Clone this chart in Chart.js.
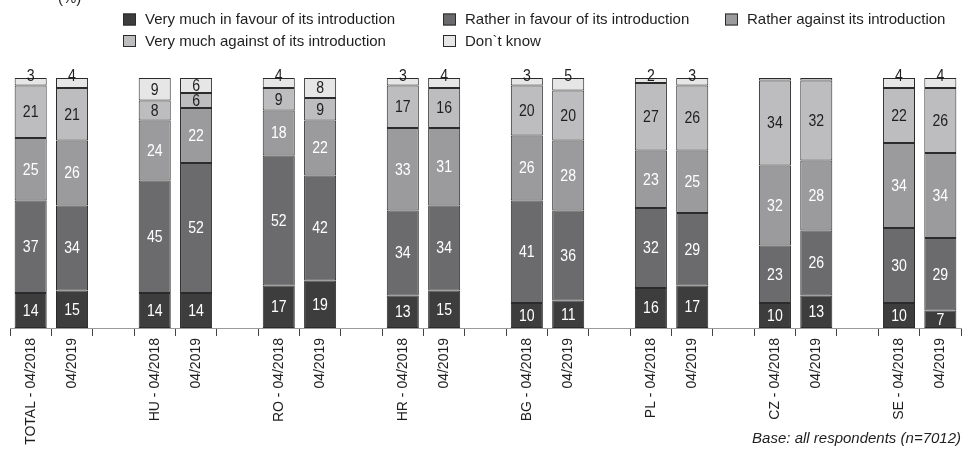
<!DOCTYPE html>
<html>
<head>
<meta charset="utf-8">
<script src="https://cdn.jsdelivr.net/npm/chart.js@4/dist/chart.umd.min.js"></script>
<style>
  html, body { margin: 0; padding: 0; background: #ffffff; }
  #wrap { position: relative; width: 963px; height: 449px; }
</style>
</head>
<body>
<div id="wrap"><canvas id="chart" width="963" height="449"></canvas></div>
<script>
// Attitudes towards the introduction, by country and survey wave (%)
const categories = [
  'TOTAL - 04/2018', '04/2019', '',
  'HU - 04/2018', '04/2019', '',
  'RO - 04/2018', '04/2019', '',
  'HR - 04/2018', '04/2019', '',
  'BG - 04/2018', '04/2019', '',
  'PL - 04/2018', '04/2019', '',
  'CZ - 04/2018', '04/2019', '',
  'SE - 04/2018', '04/2019'
];

const seriesNames = [
  'Very much in favour of its introduction',
  'Rather in favour of its introduction',
  'Rather against its introduction',
  'Very much against of its introduction',
  'Don`t know'
];

// empty slots (null) separate the country groups
const veryMuchInFavour = [14, 15, null, 14, 14, null, 17, 19, null, 13, 15, null, 10, 11, null, 16, 17, null, 10, 13, null, 10, 7];
const ratherInFavour   = [37, 34, null, 45, 52, null, 52, 42, null, 34, 34, null, 41, 36, null, 32, 29, null, 23, 26, null, 30, 29];
const ratherAgainst    = [25, 26, null, 24, 22, null, 18, 22, null, 33, 31, null, 26, 28, null, 23, 25, null, 32, 28, null, 34, 34];
const veryMuchAgainst  = [21, 21, null,  8,  6, null,  9,  9, null, 17, 16, null, 20, 20, null, 27, 26, null, 34, 32, null, 22, 26];
const dontKnow         = [ 3,  4, null,  9,  6, null,  4,  8, null,  3,  4, null,  3,  5, null,  2,  3, null,  1,  1, null,  4,  4];

const fillColors  = ['#3d3d3e', '#6b6b6d', '#9b9b9d', '#bdbdc0', '#e6e6e7'];
const labelColors = ['#ffffff', '#ffffff', '#ffffff', '#1e1e1e', '#1e1e1e'];

const FONT = "'Liberation Sans', Arial, Helvetica, sans-serif";

const seriesValues = [veryMuchInFavour, ratherInFavour, ratherAgainst, veryMuchAgainst, dontKnow];

const datasets = seriesValues.map((vals, i) => ({
  label: seriesNames[i],
  data: vals,
  backgroundColor: fillColors[i],
  borderColor: '#2b2b2b',
  borderWidth: 1,
  borderSkipped: false,
  barPercentage: 0.775,
  categoryPercentage: 1.0
}));

// Value labels (slightly condensed): centred in each segment;
// small top shares sit on the bar's upper edge
const valueLabels = {
  id: 'valueLabels',
  afterDatasetsDraw(chart) {
    const ctx = chart.ctx;
    const last = chart.data.datasets.length - 1;
    chart.data.datasets.forEach((ds, di) => {
      const meta = chart.getDatasetMeta(di);
      meta.data.forEach((el, idx) => {
        const v = ds.data[idx];
        if (v === null || v === undefined || v <= 1) return;
        const y = (di === last && v <= 5) ? el.y - 1 : (el.y + el.base) / 2 + 1;
        ctx.save();
        ctx.translate(el.x, y);
        ctx.scale(0.88, 1);
        ctx.font = '16px ' + FONT;
        ctx.textAlign = 'center';
        ctx.textBaseline = 'middle';
        ctx.fillStyle = labelColors[di];
        ctx.fillText(String(v), 0, 0);
        ctx.restore();
      });
    });
  }
};

// Three-column legend, unit note and base note
const decorations = {
  id: 'decorations',
  afterDraw(chart) {
    const ctx = chart.ctx;
    ctx.save();
    ctx.font = '15px ' + FONT;
    ctx.fillStyle = '#1e1e1e';
    ctx.textAlign = 'left';
    ctx.textBaseline = 'alphabetic';
    ctx.fillText('(%)', 58, 3);

    const colX = [123, 443, 725];
    const rowY = [19.5, 41];
    chart.data.datasets.forEach((ds, i) => {
      const col = i < 3 ? i : i - 3;
      const row = i < 3 ? 0 : 1;
      const x = colX[col], y = rowY[row];
      ctx.fillStyle = ds.backgroundColor;
      ctx.fillRect(x, y - 6, 13, 12);
      ctx.strokeStyle = '#2b2b2b';
      ctx.lineWidth = 1;
      ctx.strokeRect(x + 0.5, y - 5.5, 12, 11);
      ctx.fillStyle = '#1e1e1e';
      ctx.textBaseline = 'middle';
      ctx.fillText(ds.label, x + 22, y + 0.5);
    });

    ctx.font = 'italic 15px ' + FONT;
    ctx.textAlign = 'right';
    ctx.textBaseline = 'alphabetic';
    ctx.fillStyle = '#1e1e1e';
    ctx.fillText('Base: all respondents (n=7012)', 961, 443);
    ctx.restore();
  }
};

new Chart(document.getElementById('chart'), {
  type: 'bar',
  data: { labels: categories, datasets: datasets },
  options: {
    responsive: false,
    animation: false,
    devicePixelRatio: 1,
    layout: { padding: { left: 10, right: 2, top: 78, bottom: 0 } },
    plugins: {
      legend: { display: false },
      tooltip: { enabled: false },
      title: { display: false }
    },
    scales: {
      x: {
        stacked: true,
        offset: true,
        afterFit(scale) { scale.height = 121; },
        grid: {
          offset: true,
          drawOnChartArea: false,
          drawTicks: true,
          tickLength: 8,
          color: '#444444',
          lineWidth: 1
        },
        border: { display: true, color: '#9a9a9a', width: 1 },
        ticks: {
          autoSkip: false,
          minRotation: 90,
          maxRotation: 90,
          padding: 2,
          color: '#1e1e1e',
          font: { family: FONT, size: 14 }
        }
      },
      y: {
        stacked: true,
        display: false,
        min: 0,
        max: 100
      }
    }
  },
  plugins: [valueLabels, decorations]
});
</script>
</body>
</html>
